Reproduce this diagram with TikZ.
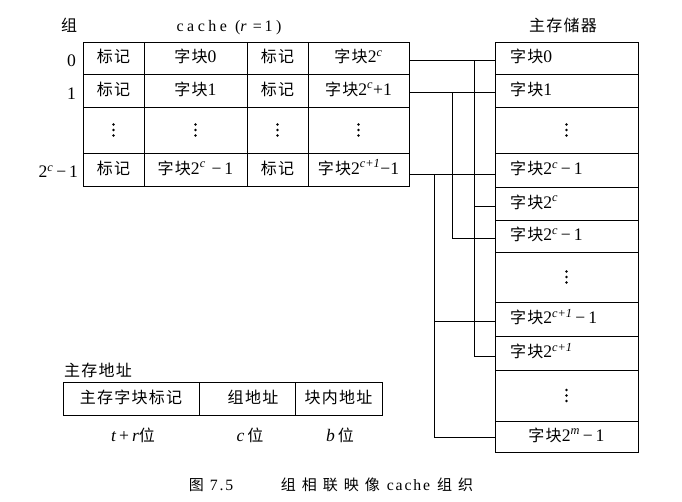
\documentclass[tikz,border=0pt]{standalone}
\usepackage{fontspec}
\setmainfont{Liberation Serif}[Scale=1.1]
\newfontfamily\cjk{Noto Sans CJK SC}[LetterSpace=8]
\newfontfamily\cjkwide{Noto Sans CJK SC}[LetterSpace=40]
\newfontfamily\latwide{Liberation Serif}[LetterSpace=22]
\newfontfamily\latcap{Liberation Serif}[LetterSpace=12,Scale=1.05]
\newcommand{\zh}[1]{{\cjk #1}}
\newcommand{\sps}[1]{\textsuperscript{\textit{#1}}}
\tikzset{
  cell/.style={draw, inner sep=0pt, outer sep=0pt, text height=12pt, text depth=3pt},
  txt/.style={inner sep=0pt, outer sep=0pt, text height=12pt, text depth=3pt},
  wire/.style={line width=0.9pt},
  memtext/.style={cell, minimum width=143pt, text width=113pt, align=left},
  memc/.style={cell, minimum width=143pt},
  dot/.style={fill=black},
}
\newcommand{\vdts}[1]{%
  \fill[dot] ([yshift=5.5pt]#1.center) circle (1.3pt);
  \fill[dot] (#1.center) circle (1.3pt);
  \fill[dot] ([yshift=-5.5pt]#1.center) circle (1.3pt);}
\begin{document}
\begin{tikzpicture}[x=1pt,y=-1pt,line width=0.9pt,font=\fontsize{16}{19}\selectfont]
\useasboundingbox (0,0) rectangle (682,501);
% headers
\node[txt] (hzu) at (69,27) {\zh{组}};
\node[txt] (hcache) at (229,27) {\latwide cache\hspace{8pt}(\textit{r}\,=\,1)};
\node[txt] (hmem) at (563,27) {\zh{主存储器}};
% row labels
\node[txt,anchor=east] (r0) at (76,62) {0};
\node[txt,anchor=east] (r1) at (76,95) {1};
\node[txt,anchor=east] (r3) at (78,173) {2\sps{c}\,−\,1};
% cache cells
\node[cell,minimum width=61pt,minimum height=32pt] (c00) at (113.5,58) {\zh{标记}};
\node[cell,minimum width=103pt,minimum height=32pt] (c01) at (195.5,58) {\zh{字块}0};
\node[cell,minimum width=61pt,minimum height=32pt] (c02) at (277.5,58) {\zh{标记}};
\node[cell,minimum width=101pt,minimum height=32pt] (c03) at (358.5,58) {\zh{字块}2\sps{c}};
\node[cell,minimum width=61pt,minimum height=33pt] (c10) at (113.5,90.5) {\zh{标记}};
\node[cell,minimum width=103pt,minimum height=33pt] (c11) at (195.5,90.5) {\zh{字块}1};
\node[cell,minimum width=61pt,minimum height=33pt] (c12) at (277.5,90.5) {\zh{标记}};
\node[cell,minimum width=101pt,minimum height=33pt] (c13) at (358.5,90.5) {\zh{字块}2\sps{c}+1};
\node[cell,minimum width=61pt,minimum height=46pt] (c20) at (113.5,130) {};
\node[cell,minimum width=103pt,minimum height=46pt] (c21) at (195.5,130) {};
\node[cell,minimum width=61pt,minimum height=46pt] (c22) at (277.5,130) {};
\node[cell,minimum width=101pt,minimum height=46pt] (c23) at (358.5,130) {};
\node[cell,minimum width=61pt,minimum height=33pt] (c30) at (113.5,169.5) {\zh{标记}};
\node[cell,minimum width=103pt,minimum height=33pt] (c31) at (195.5,169.5) {\zh{字块}2\sps{c}\,\,−\,1};
\node[cell,minimum width=61pt,minimum height=33pt] (c32) at (277.5,169.5) {\zh{标记}};
\node[cell,minimum width=101pt,minimum height=33pt] (c33) at (358.5,169.5) {\zh{字块}2\sps{c+1}−1};
\vdts{c20}\vdts{c21}\vdts{c22}\vdts{c23}
% main memory
\node[memtext,minimum height=32pt] (m0) at (566.5,58) {\zh{字块}0};
\node[memtext,minimum height=33pt] (m1) at (566.5,90.5) {\zh{字块}1};
\node[memc,minimum height=46pt] (m2) at (566.5,130) {};
\node[memtext,minimum height=34pt] (m3) at (566.5,170) {\zh{字块}2\sps{c}\,−\,1};
\node[memtext,minimum height=33pt] (m4) at (566.5,203.5) {\zh{字块}2\sps{c}};
\node[memtext,minimum height=32pt] (m5) at (566.5,236) {\zh{字块}2\sps{c}\,−\,1};
\node[memc,minimum height=50pt] (m6) at (566.5,277) {};
\node[memtext,minimum height=34pt] (m7) at (566.5,319) {\zh{字块}2\sps{c+1}\,−\,1};
\node[memtext,minimum height=34pt] (m8) at (566.5,353) {\zh{字块}2\sps{c+1}};
\node[memc,minimum height=51pt] (m9) at (566.5,395.5) {};
\node[memc,minimum height=31pt] (m10) at (566.5,436.5) {\zh{字块}2\sps{m}\,−\,1};
\vdts{m2}\vdts{m6}\vdts{m9}
% connectors
\coordinate (x0) at (474,0);
\coordinate (x1) at (452,0);
\coordinate (x3) at (434,0);
\coordinate (a0) at ([yshift=-2.5pt]c03.east);
\coordinate (a1) at ([yshift=-2pt]c13.east);
\coordinate (a3) at ([yshift=-4.5pt]c33.east);
\coordinate (b4) at ([yshift=-2.5pt]m4.west);
\coordinate (b5) at ([yshift=-2pt]m5.west);
\coordinate (b7) at ([yshift=-2pt]m7.west);
\coordinate (b8) at ([yshift=-3pt]m8.west);
\coordinate (b10) at ([yshift=-0.5pt]m10.west);
\draw[wire] (a0) -- (a0 -| m0.west);
\draw[wire] (a0 -| x0) |- (b8);
\draw[wire] (b4 -| x0) -- (b4);
\draw[wire] (a1) -- (a1 -| m1.west);
\draw[wire] (a1 -| x1) |- (b5);
\draw[wire] (a3) -- (a3 -| m3.west);
\draw[wire] (a3 -| x3) |- (b10);
\draw[wire] (b7 -| x3) -- (b7);
% address
\node[txt,anchor=west] (addr) at (64,372) {\zh{主存地址}};
\node[cell,minimum width=136pt,minimum height=33pt] (f1) at (131,398.5) {\zh{主存字块标记}};
\node[cell,minimum width=96pt,minimum height=33pt] (f2) at (247,398.5) {\hspace*{12pt}\zh{组地址}};
\node[cell,minimum width=87pt,minimum height=33pt] (f3) at (338.5,398.5) {\zh{块内地址}};
\node[txt] (w1) at (133,437) {\textit{t}\,+\,\textit{r}\zh{位}};
\node[txt] (w2) at (250,437) {\textit{c}\,\zh{位}};
\node[txt] (w3) at (340,437) {\textit{b}\,\zh{位}};
% caption
\node[txt,font=\fontsize{15}{18}\selectfont] (fig) at (211,486) {\cjkwide 图\hspace{6pt}\latcap 7.5};
\node[txt,font=\fontsize{15}{18}\selectfont] (cap) at (377,486) {{\cjkwide 组相联映像}\hspace{7pt}{\latcap cache}\hspace{7pt}{\cjkwide 组织}};
\end{tikzpicture}
\end{document}
